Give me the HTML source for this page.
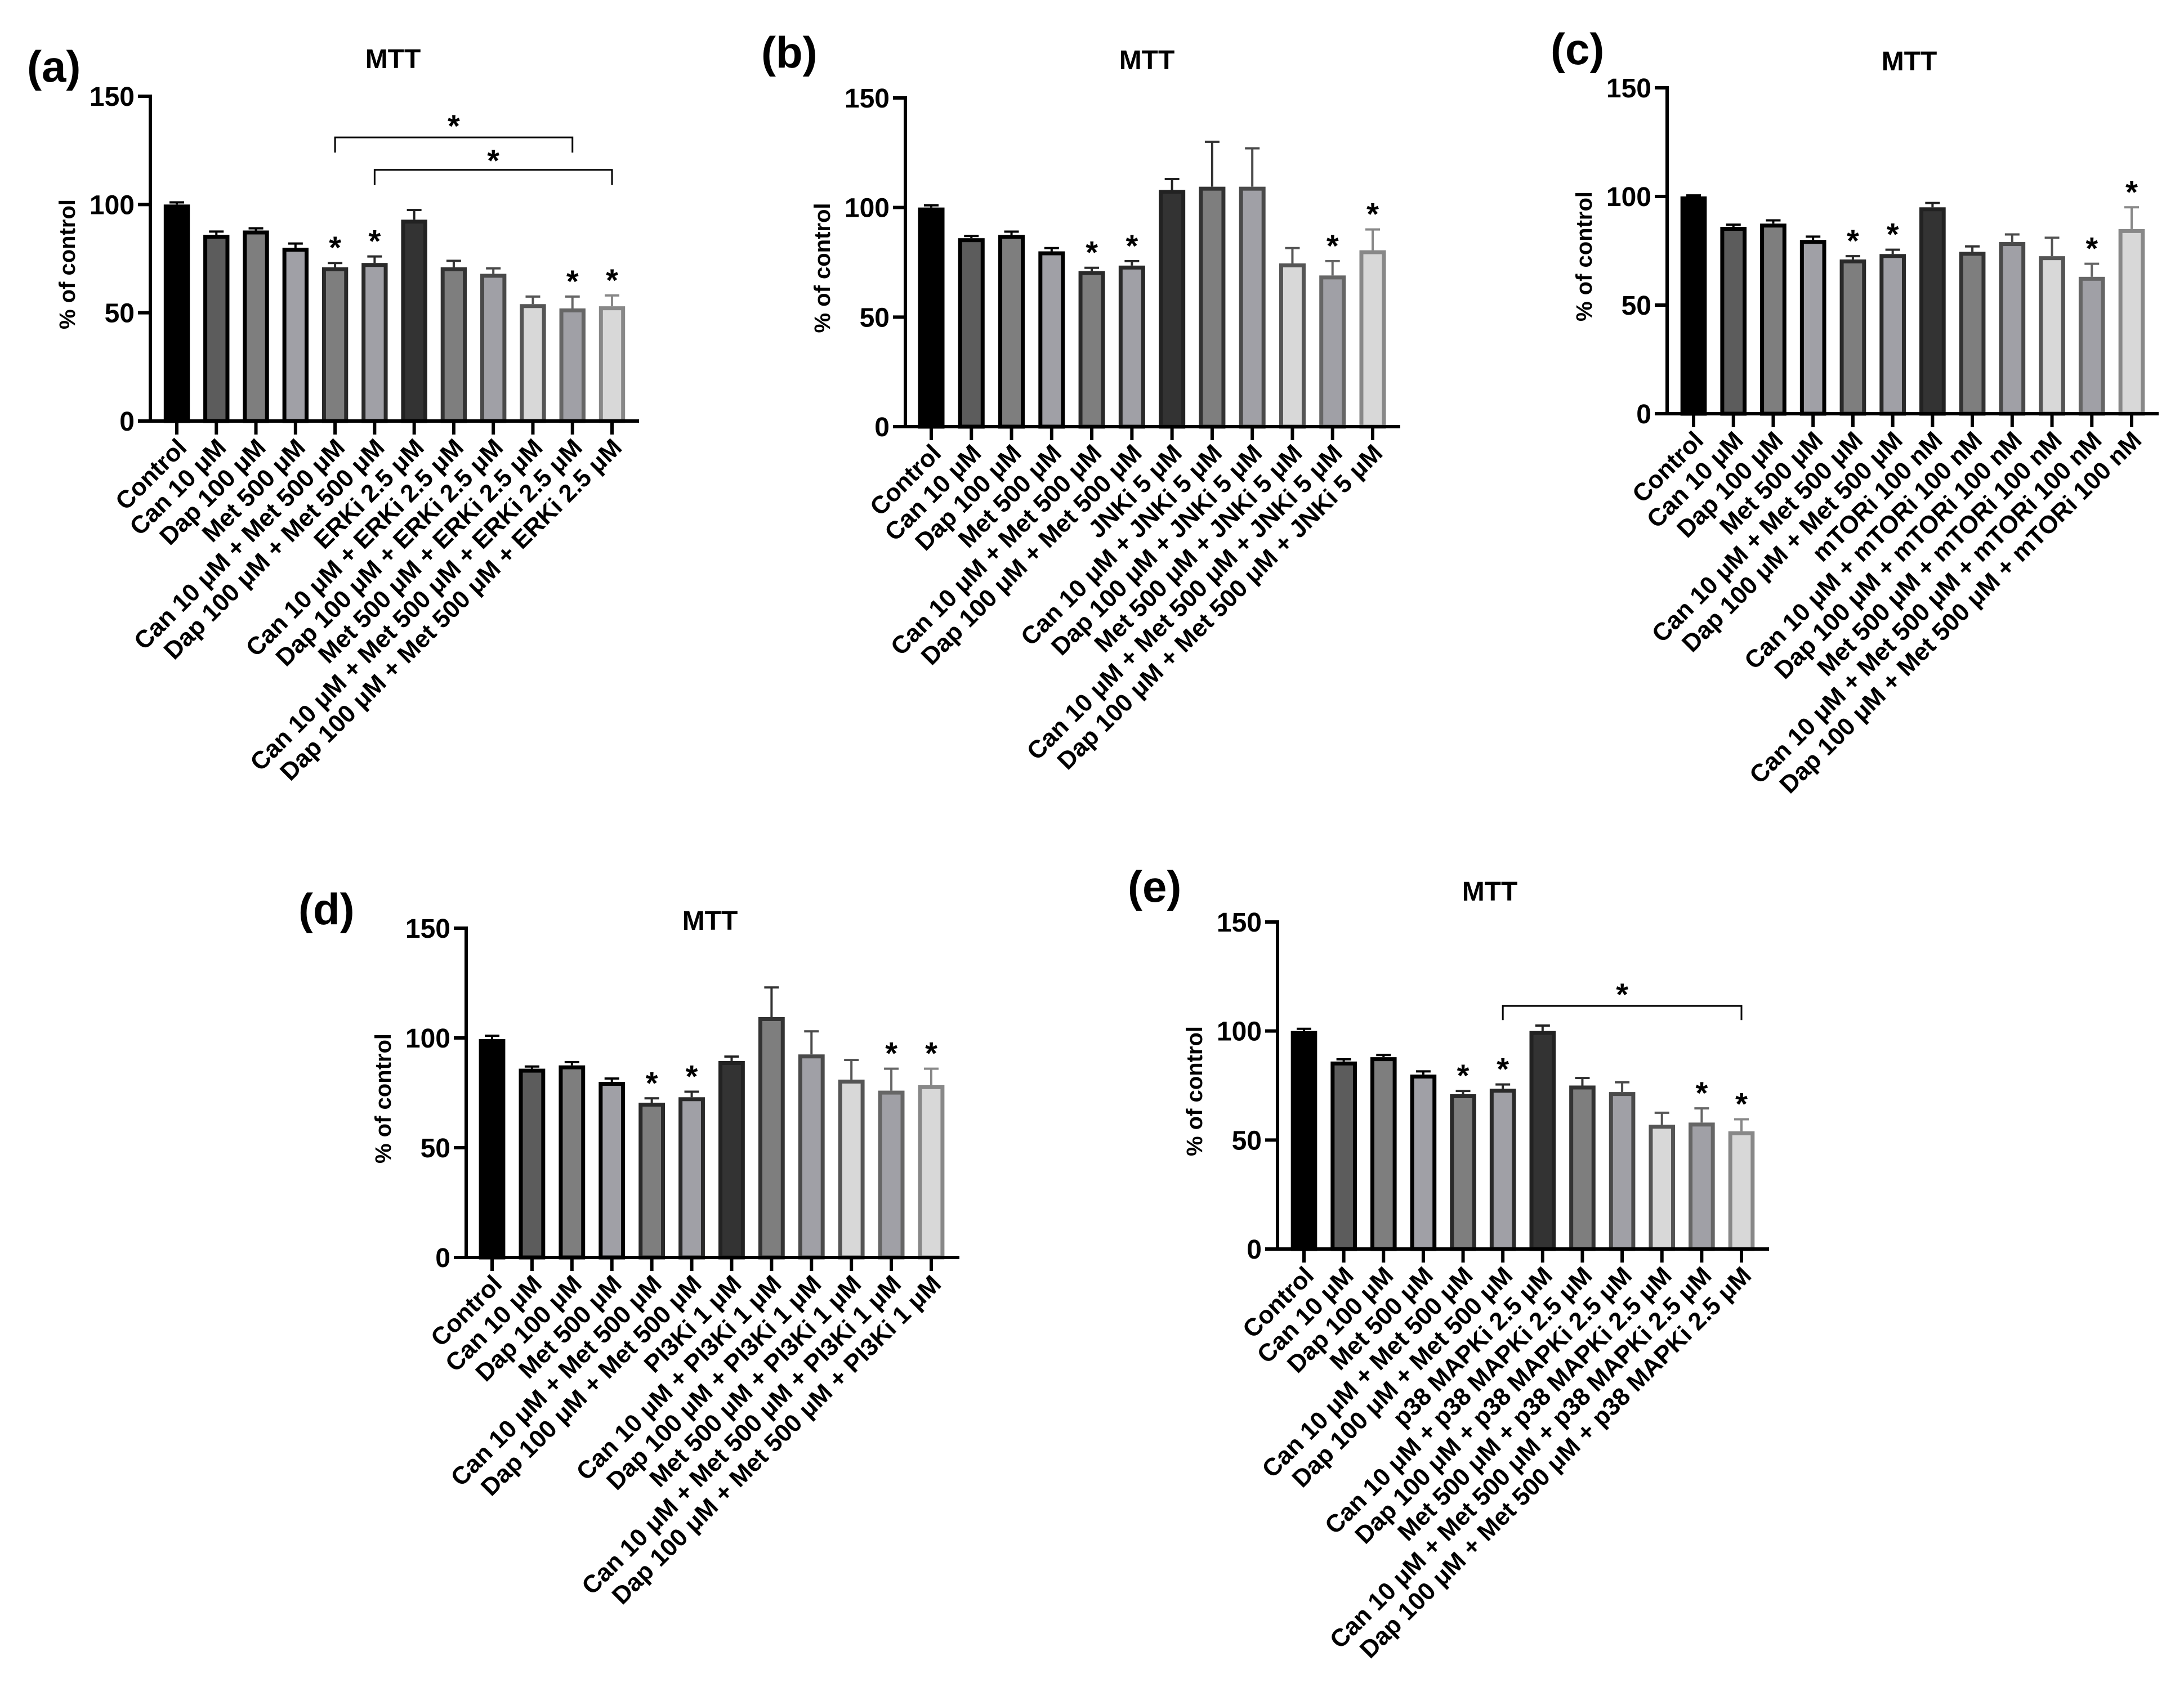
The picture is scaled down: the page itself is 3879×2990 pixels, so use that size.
<!DOCTYPE html>
<html><head><meta charset="utf-8"><style>
html,body{margin:0;padding:0;background:#fff}
svg{display:block}
text{font-family:"Liberation Sans",Arial,sans-serif;font-weight:bold;fill:#000}
</style></head><body>
<svg id="fig" width="3879" height="2990" viewBox="0 0 3879 2990" xmlns="http://www.w3.org/2000/svg"></svg>
<script>
// ---- data ----
const baseCats = ["Control","Can 10 μM","Dap 100 μM","Met 500 μM","Can 10 μM + Met 500 μM","Dap 100 μM + Met 500 μM"];
const comboPrefixes = ["","Can 10 μM + ","Dap 100 μM + ","Met 500 μM + ","Can 10 μM + Met 500 μM + ","Dap 100 μM + Met 500 μM + "];
const inhibitorA = "ERKi 2.5 μM";
const inhibitorB = "JNKi 5 μM";
const inhibitorC = "mTORi 100 nM";
const inhibitorD = "PI3Ki 1 μM";
const inhibitorE = "p38 MAPKi 2.5 μM";
const valuesA = [100,86,88,80,71,73,93,71,68,54,52,53];
const errTopA = [101,87.5,89,82,73,76,97.5,74,70.5,57.5,57.5,58];
const valuesB = [100,86,87.5,80,71,73.5,108,109.5,109.5,74.5,69,80.5];
const errTopB = [101,87,89,81.5,72.5,75.5,113,130,127,81.5,75.5,90];
const valuesC = [100,86,87.5,80,71,73.5,95,74.5,79,72.5,63,85];
const errTopC = [100.5,87,89,81.5,72.5,75.5,97,77,82.5,81,69,95];
const valuesD = [99.5,86,87.5,80,70.5,73,89.5,109.5,92.5,81,76,78.5];
const errTopD = [101,87,89,81.5,72.5,75.5,91.5,123,103,90,86,86];
const valuesE = [100,86,88,80,71,73.5,100,75,72,57,58,54];
const errTopE = [101,87,89,81.5,72.5,75.5,102.5,78.5,76.5,62.5,64.5,59.5];
const starIdx = [4,5,10,11];
const yTicks = [0,50,100,150];
const bracketsA = [[4,10,131,124,137],[5,11,116,109,121]];
const bracketsE = [[5,11,111.5,105,117.5]];
// ---- styles ----
const fills = ["#000","#5c5c5c","#7e7e7e","#a0a0a6","#7e7e7e","#a0a0a6","#333","#7e7e7e","#a0a0a6","#d8d8d8","#a0a0a6","#d8d8d8"];
const strokes = ["#000","#000","#000","#000","#2a2a2a","#2a2a2a","#222","#333","#4a4a4a","#555","#666","#888"];
const panels = [
 {id:"a",letter:[48,145],title:[698,121],ax:267,y150:171,y0:748,xEnd:1135,b0:314,b1:1087,vals:valuesA,errs:errTopA,inh:inhibitorA,br:bracketsA},
 {id:"b",letter:[1352,120],title:[2037,123],ax:1608,y150:174,y0:758,xEnd:2487,b0:1654,b1:2438,vals:valuesB,errs:errTopB,inh:inhibitorB,br:[]},
 {id:"c",letter:[2754,114],title:[3391,125],ax:2961,y150:156,y0:735,xEnd:3834,b0:3008,b1:3786,vals:valuesC,errs:errTopC,inh:inhibitorC,br:[]},
 {id:"d",letter:[530,1642],title:[1261,1652],ax:828,y150:1649,y0:2234,xEnd:1704,b0:874,b1:1654,vals:valuesD,errs:errTopD,inh:inhibitorD,br:[]},
 {id:"e",letter:[2003,1602],title:[2646,1600],ax:2269,y150:1638,y0:2219,xEnd:3142,b0:2316,b1:3093,vals:valuesE,errs:errTopE,inh:inhibitorE,br:bracketsE}
];
const NS="http://www.w3.org/2000/svg";
const svg=document.getElementById("fig");
function mk(tag,attrs,parent,txt){const e=document.createElementNS(NS,tag);for(const k in attrs)e.setAttribute(k,attrs[k]);if(txt!==undefined)e.textContent=txt;(parent||svg).appendChild(e);return e;}
panels.forEach(p=>{
  const g=mk("g",{});
  
  
  const n=p.vals.length, step=(p.b1-p.b0)/(n-1), bw=step*0.66;
  const yS=v=>p.y0-(v/150)*(p.y0-p.y150);
  const xS=i=>p.b0+i*step;
  let t=mk("text",{x:p.letter[0],y:p.letter[1],"font-size":78},g,"("+p.id+")");
  
  
  t=mk("text",{x:p.title[0],y:p.title[1],"font-size":48,"text-anchor":"middle"},g,"MTT");
  
  
  const ym=(p.y0+p.y150)/2+10;
  t=mk("text",{x:0,y:0,"font-size":40,"text-anchor":"middle",transform:`translate(${p.ax-134},${ym}) rotate(-90)`},g,"% of control");
  
  
  p.vals.forEach((v,i)=>{
    const cx=xS(i), sw=7;
    const et=mk("line",{x1:cx,x2:cx,y1:yS(v),y2:yS(p.errs[i]),stroke:strokes[i],"stroke-width":4},g);
    
    
    const ec=mk("line",{x1:cx-13,x2:cx+13,y1:yS(p.errs[i]),y2:yS(p.errs[i]),stroke:strokes[i],"stroke-width":4},g);
    
    
    const r=mk("rect",{x:cx-bw/2+sw/2,y:yS(v)+sw/2,width:bw-sw,height:Math.max(0,p.y0-yS(v)-sw/2),fill:fills[i],stroke:strokes[i],"stroke-width":sw},g);
    
    
    if(starIdx.includes(i)){
      const s=mk("text",{x:cx,y:yS(p.errs[i])-8,"font-size":56,"font-weight":"normal","text-anchor":"middle"},g,"*");
      
      
    }
    const tk=mk("line",{x1:cx,x2:cx,y1:p.y0,y2:p.y0+24,stroke:"#000","stroke-width":6},g);
    
    
    const lbl = i<6 ? baseCats[i] : (comboPrefixes[i-6]+p.inh);
    const lt=mk("text",{x:0,y:0,"font-size":44,"text-anchor":"end",transform:`translate(${cx+20},${p.y0+50}) rotate(-45)`},g,lbl);
    
    
  });
  let a=mk("line",{x1:p.ax,x2:p.ax,y1:p.y150-3,y2:p.y0+3,stroke:"#000","stroke-width":6},g);
  
  
  a=mk("line",{x1:p.ax-3,x2:p.xEnd,y1:p.y0,y2:p.y0,stroke:"#000","stroke-width":6},g);
  
  
  yTicks.forEach(v=>{
    const l=mk("line",{x1:p.ax-22,x2:p.ax,y1:yS(v),y2:yS(v),stroke:"#000","stroke-width":6},g);
    
    
    const tl=mk("text",{x:p.ax-28,y:yS(v)+17,"font-size":48,"text-anchor":"end"},g,String(v));
    
    
  });
  p.br.forEach(b=>{
    const x1=xS(b[0]),x2=xS(b[1]),yt=yS(b[2]),yb=yS(b[3]);
    const pl=mk("polyline",{points:`${x1},${yb} ${x1},${yt} ${x2},${yt} ${x2},${yb}`,fill:"none",stroke:"#000","stroke-width":3},g);
    
    
    const s=mk("text",{x:(x1+x2)/2,y:yS(b[4])+22,"font-size":56,"font-weight":"normal","text-anchor":"middle"},g,"*");
    
    
  });
});
</script>
</body></html>
